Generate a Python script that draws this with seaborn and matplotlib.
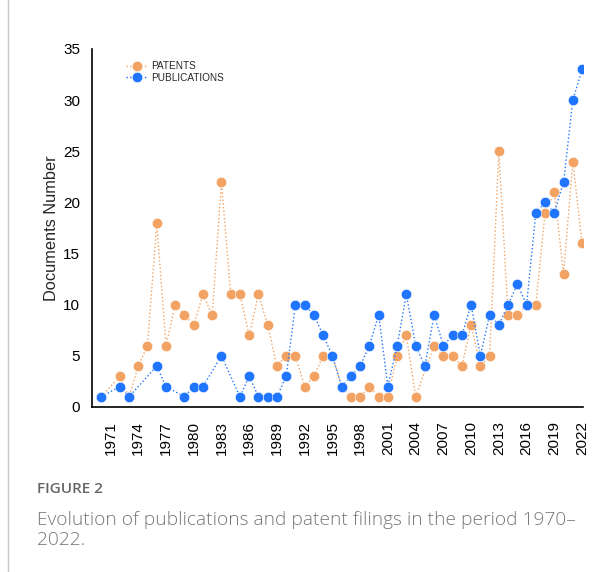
import matplotlib
matplotlib.use("Agg")
import matplotlib.pyplot as plt
import seaborn as sns
import numpy as np
import pandas as pd
from matplotlib.lines import Line2D

# data (NaN = no point for that year)
years = list(range(1970, 2023))
nan = np.nan
patents = [1, nan, 3, 1, 4, 6, 18, 6, 10, 9,
           8, 11, 9, 22, 11, 11, 7, 11, 8, 4,
           5, 5, 2, 3, 5, 5, 2, 1, 1, 2,
           1, 1, 5, 7, 1, nan, 6, 5, 5, 4,
           8, 4, 5, 25, 9, 9, 10, 10, 19, 21,
           13, 24, 16]
publications = [1, nan, 2, 1, nan, nan, 4, 2, nan, 1,
                2, 2, nan, 5, nan, 1, 3, 1, 1, 1,
                3, 10, 10, 9, 7, 5, 2, 3, 4, 6,
                9, 2, 6, 11, 6, 4, 9, 6, 7, 7,
                10, 5, 9, 8, 10, 12, 10, 19, 20, 19,
                22, 30, 33]
series_names = ['PATENTS', 'PUBLICATIONS']
palette = {'PATENTS': '#F2A363', 'PUBLICATIONS': '#1F75FE'}

df = pd.concat([
    pd.DataFrame({'year': years, 'docs': patents, 'series': 'PATENTS'}),
    pd.DataFrame({'year': years, 'docs': publications, 'series': 'PUBLICATIONS'}),
]).dropna()

sns.set_style('white')
plt.rcParams['font.family'] = ['Liberation Sans', 'DejaVu Sans']

fig = plt.figure(figsize=(6.16, 5.72), dpi=100)
ax = fig.add_axes([92 / 616, 1 - 407 / 572, (583 - 92) / 616, (407 - 49) / 572])

sns.lineplot(data=df, x='year', y='docs', hue='series', hue_order=series_names,
             palette=palette, ax=ax, linestyle=':', linewidth=1.0,
             marker='o', markersize=7.5, markeredgecolor='white', markeredgewidth=0.4)

ax.set_xlim(1969, 2022.1)
ax.set_ylim(0, 35)
ax.set_xticks(list(range(1971, 2023, 3)))
ax.set_xticklabels([str(y) for y in range(1971, 2023, 3)], rotation=90)
ax.set_yticks(list(range(0, 36, 5)))
ax.tick_params(axis='both', labelsize=11, direction='out', length=5, width=1, colors='black')
ax.tick_params(axis='x', pad=5)
ax.set_xlabel('')
ax.set_ylabel('Documents Number', fontsize=11.8, labelpad=3)
for s in ['top', 'right']:
    ax.spines[s].set_visible(False)
for s in ['left', 'bottom']:
    ax.spines[s].set_color('black')
    ax.spines[s].set_linewidth(1.2)

handles = [Line2D([], [], color=palette[n], linestyle=':', linewidth=1.0, marker='o',
                  markersize=7.5, markeredgecolor='white', markeredgewidth=0.4)
           for n in series_names]
ax.legend(handles, series_names, loc='upper left', bbox_to_anchor=(0.055, 0.985),
          frameon=False, fontsize=7.2, handlelength=2.2, handletextpad=0.3,
          labelspacing=0.15, borderpad=0.2)

# page decorations: left rule and caption
fig.add_artist(Line2D([8 / 616, 8 / 616], [0, 1], color='#c8c8c8', linewidth=1))
fig.text(37 / 616, 1 - 489 / 572, 'FIGURE 2', fontsize=11, color='#666666',
         family=['Open Sans', 'DejaVu Sans'], weight='semibold', va='center')
fig.text(37 / 616, 1 - 530 / 572,
         'Evolution of publications and patent filings in the period 1970\u2013\n2022.',
         fontsize=13.8, color='#777777', family=['Open Sans', 'DejaVu Sans'],
         weight='light', va='center', linespacing=1.15)

fig.savefig('out.png', dpi=100)
